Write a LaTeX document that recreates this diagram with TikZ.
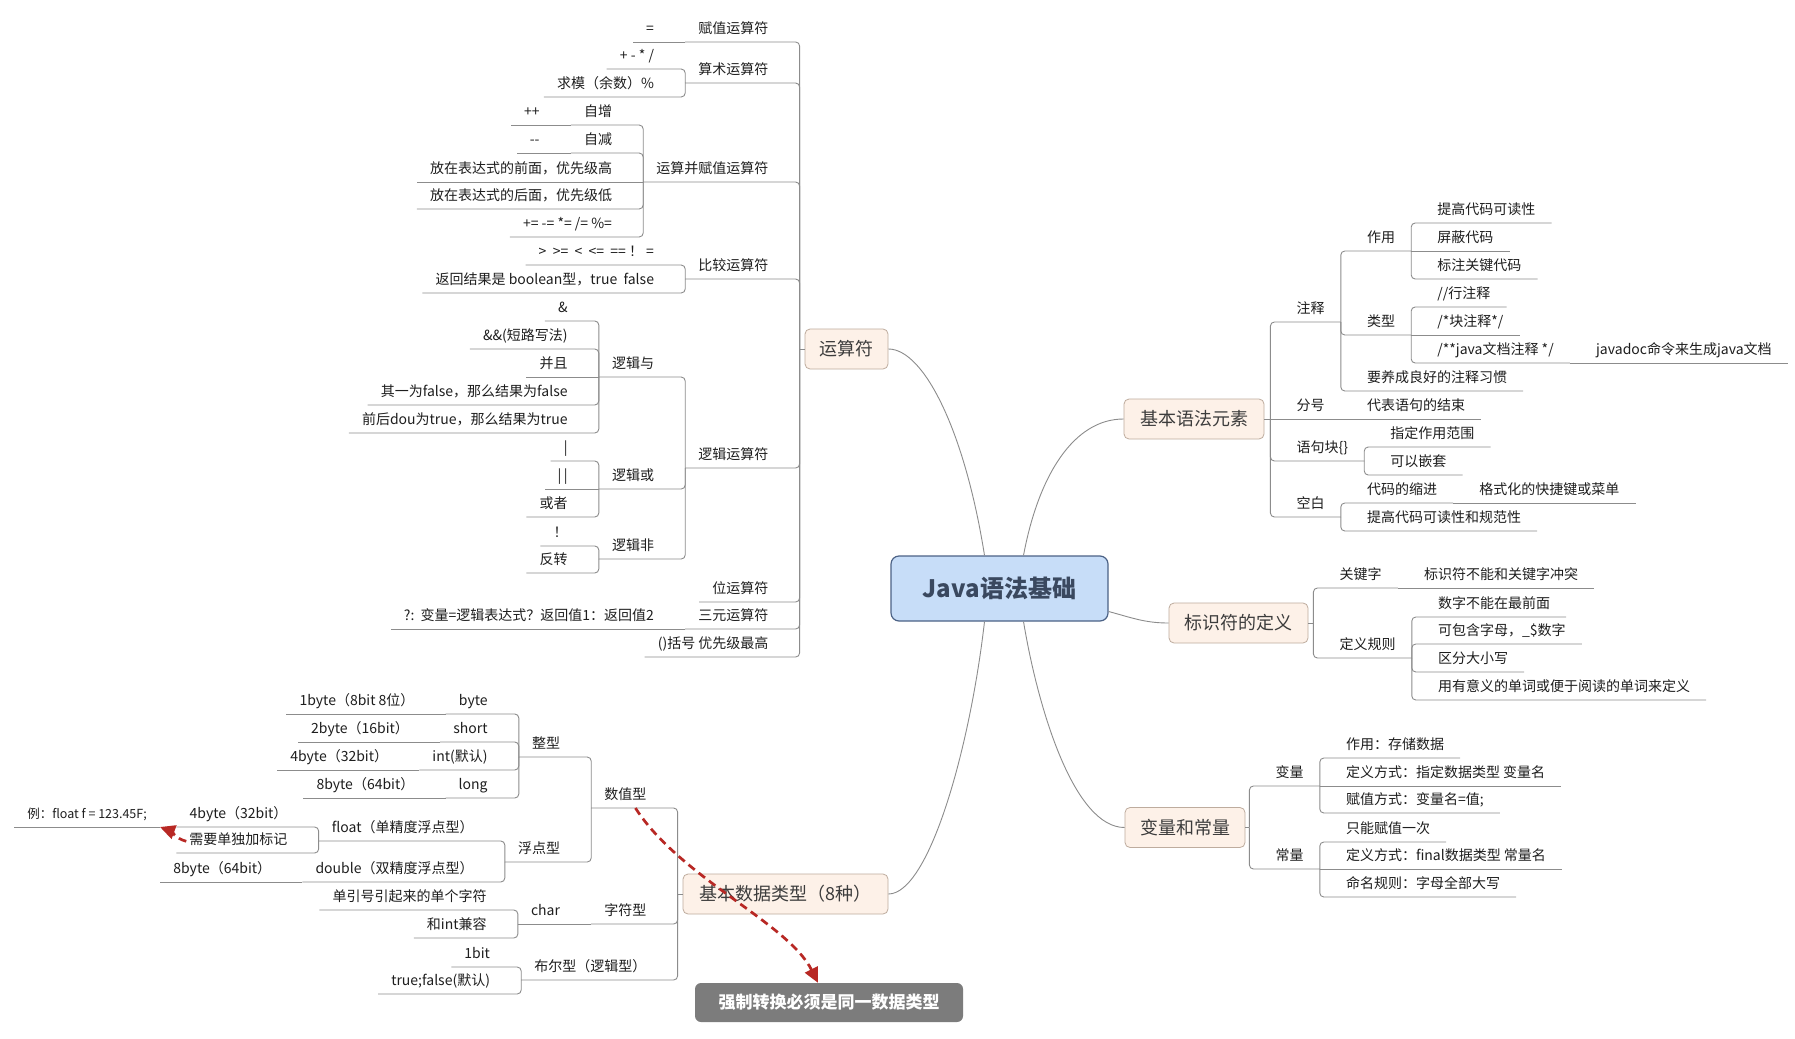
\documentclass[tikz,border=0pt]{standalone}
\usepackage{fontspec}
\setmainfont{Noto Sans CJK SC}
\usetikzlibrary{arrows.meta}

\definecolor{linegray}{RGB}{140,140,140}
\definecolor{leaftext}{RGB}{30,30,30}
\definecolor{topicfill}{RGB}{253,241,232}
\definecolor{topicdraw}{RGB}{190,172,158}
\definecolor{topictext}{RGB}{60,60,60}
\definecolor{rootfill}{RGB}{199,221,248}
\definecolor{rootdraw}{RGB}{76,98,134}
\definecolor{roottext}{RGB}{58,72,95}
\definecolor{relred}{RGB}{184,40,36}
\definecolor{notefill}{RGB}{124,124,124}

\begin{document}
\begin{tikzpicture}[x=1pt, y=-1pt, >={Triangle[length=15pt,width=14pt]}]
\tikzset{
root/.style   = {draw=rootdraw, fill=rootfill, line width=1.2pt, rounded corners=8pt, minimum width=217pt, minimum height=65pt, font=\fontsize{24}{28}\selectfont\bfseries, text=roottext},
topic/.style  = {draw=topicdraw, fill=topicfill, line width=0.8pt, rounded corners=5pt, minimum height=40pt, font=\fontsize{18}{21}\selectfont, text=topictext},
note/.style   = {fill=notefill, rounded corners=6pt, minimum width=268pt, minimum height=39pt, font=\fontsize{17}{20}\selectfont\bfseries, text=white},
lleaf/.style  = {anchor=south east, xshift=-18pt, inner xsep=13pt, inner ysep=3pt, text height=12pt, text depth=5pt, font=\fontsize{14}{16}\selectfont, text=leaftext},
rleaf/.style  = {anchor=south west, xshift=10pt, inner xsep=16pt, inner ysep=3pt, text height=12pt, text depth=5pt, font=\fontsize{14}{16}\selectfont, text=leaftext},
conn/.style   = {draw=linegray, line width=0.9pt, rounded corners=4pt},
branch/.style = {draw=linegray, line width=0.9pt},
rel/.style    = {->, draw=relred, line width=2.7pt, dash pattern=on 8pt off 5pt},
}
    \path [fill=white, use as bounding box] (0,0) rectangle (1795,1038);

    % Main nodes
    \node [root]                       (java)  at (999.5,588.5) {Java语法基础};
    \node [topic, minimum width=83pt]  (ysf)   at (846.5,349)   {运算符};
    \node [topic, minimum width=140pt] (jbyf)  at (1194,419)    {基本语法元素};
    \node [topic, minimum width=139pt] (bsf)   at (1238.5,623)  {标识符的定义};
    \node [topic, minimum width=120pt] (blcl)  at (1185,827.5)  {变量和常量};
    \node [topic, minimum width=205pt] (jbsj)  at (785.5,894)   {基本数据类型（8种）};
    \node [note]                       (qz)    at (829,1002.5)  {强制转换必须是同一数据类型};

    \coordinate (ysf-t)  at ([xshift=-5pt]ysf.west);
    \coordinate (jbsj-t) at ([xshift=-5pt]jbsj.west);
    \coordinate (jbyf-t) at ([xshift=6pt]jbyf.east);
    \coordinate (bsf-t)  at ([xshift=5pt]bsf.east);
    \coordinate (blcl-t) at ([xshift=4pt]blcl.east);

    % Main edges
    \draw [branch] ([xshift=-15pt]java.north) .. controls +(-20,-126) and +(35,0) .. (ysf.east);
    \draw [branch] ([xshift=24pt]java.north)  .. controls +(15,-80) and +(-50,0) .. (jbyf.west);
    \draw [branch] ([yshift=-23pt]java.east)  to[out=-15, in=180] (bsf.west);
    \draw [branch] ([xshift=24pt]java.south)  .. controls +(15,90) and +(-50,0) .. (blcl.west);
    \draw [branch] ([xshift=-15pt]java.south) .. controls +(-15,130) and +(40,0) .. (jbsj.east);
    \draw [conn] (ysf.west)  -- (ysf-t);
    \draw [conn] (jbsj.west) -- (jbsj-t);
    \draw [conn] (jbyf.east) -- (jbyf-t);
    \draw [conn] (bsf.east)  -- (bsf-t);
    \draw [conn] (blcl.east) -- (blcl-t);

    % 运算符
    \node [lleaf] (fz)    at (ysf-t |- 0,42)  {赋值运算符};
    \node [lleaf] (eq)    at (fz.south west)  {=};
    \node [lleaf] (ss)    at (ysf-t |- 0,83)  {算术运算符};
    \node [lleaf] (jj)    at (ss.south west |- 0,69) {+ - * /};
    \node [lleaf] (qm)    at (ss.south west |- 0,97) {求模（余数）\%};
    \node [lleaf] (ysfz)  at (ysf-t |- 0,182) {运算并赋值运算符};
    \node [lleaf] (zz)    at (ysfz.south west |- 0,125) {自增};
    \node [lleaf] (pp)    at (zz.south west) {++};
    \node [lleaf] (zj)    at (ysfz.south west |- 0,153) {自减};
    \node [lleaf] (mm)    at (zj.south west) {-{}-};
    \node [lleaf] (qian)  at (ysfz.south west) {放在表达式的前面，优先级高};
    \node [lleaf] (hou)   at (ysfz.south west |- 0,209) {放在表达式的后面，优先级低};
    \node [lleaf] (fhz)   at (ysfz.south west |- 0,237) {+= -= *= /= \%=};
    \node [lleaf] (bj)    at (ysf-t |- 0,279) {比较运算符};
    \node [lleaf] (bjf)   at (bj.south west |- 0,265) {> \ >= \ < \ <= \ == ！ =};
    \node [lleaf] (bjjg)  at (bj.south west |- 0,293) {返回结果是 boolean型，true\ \ false};
    \node [lleaf] (lj)    at (ysf-t |- 0,468) {逻辑运算符};
    \node [lleaf] (ly)    at (lj.south west |- 0,377) {逻辑与};
    \node [lleaf] (and1)  at (ly.south west |- 0,321) {\&};
    \node [lleaf] (and2)  at (ly.south west |- 0,349) {\&\&(短路写法)};
    \node [lleaf] (and3)  at (ly.south west) {并且};
    \node [lleaf] (and4)  at (ly.south west |- 0,405) {其一为false，那么结果为false};
    \node [lleaf] (and5)  at (ly.south west |- 0,433) {前后dou为true，那么结果为true};
    \node [lleaf] (lh)    at (lj.south west |- 0,489) {逻辑或};
    \node [lleaf] (or1)   at (lh.south west |- 0,461) {|};
    \node [lleaf] (or2)   at (lh.south west) {|\,|};
    \node [lleaf] (or3)   at (lh.south west |- 0,517) {或者};
    \node [lleaf] (lfei)  at (lj.south west |- 0,559) {逻辑非};
    \node [lleaf] (not1)  at (lfei.south west |- 0,546) {！};
    \node [lleaf] (not2)  at (lfei.south west |- 0,573) {反转};
    \node [lleaf] (wys)   at (ysf-t |- 0,602) {位运算符};
    \node [lleaf] (sy)    at (ysf-t |- 0,629) {三元运算符};
    \node [lleaf] (sy1)   at (sy.south west) {?:\ \ 变量=逻辑表达式？返回值1：返回值2};
    \node [lleaf] (kh)    at (ysf-t |- 0,657) {()括号 优先级最高};

    \draw [conn] (ysf-t) |- (fz.south west);
    \draw [conn] (fz.south west) -- (eq.south west);
    \draw [conn] (ysf-t) |- (ss.south west);
    \draw [conn] (ss.south west) |- (jj.south west);
    \draw [conn] (ss.south west) |- (qm.south west);
    \draw [conn] (ysf-t) |- (ysfz.south west);
    \draw [conn] (ysfz.south west) |- (zz.south west);
    \draw [conn] (zz.south west) -- (pp.south west);
    \draw [conn] (ysfz.south west) |- (zj.south west);
    \draw [conn] (zj.south west) -- (mm.south west);
    \draw [conn] (ysfz.south west) -- (qian.south west);
    \draw [conn] (ysfz.south west) |- (hou.south west);
    \draw [conn] (ysfz.south west) |- (fhz.south west);
    \draw [conn] (ysf-t) |- (bj.south west);
    \draw [conn] (bj.south west) |- (bjf.south west);
    \draw [conn] (bj.south west) |- (bjjg.south west);
    \draw [conn] (ysf-t) |- (lj.south west);
    \draw [conn] (lj.south west) |- (ly.south west);
    \draw [conn] (ly.south west) |- (and1.south west);
    \draw [conn] (ly.south west) |- (and2.south west);
    \draw [conn] (ly.south west) -- (and3.south west);
    \draw [conn] (ly.south west) |- (and4.south west);
    \draw [conn] (ly.south west) |- (and5.south west);
    \draw [conn] (lj.south west) |- (lh.south west);
    \draw [conn] (lh.south west) |- (or1.south west);
    \draw [conn] (lh.south west) -- (or2.south west);
    \draw [conn] (lh.south west) |- (or3.south west);
    \draw [conn] (lj.south west) |- (lfei.south west);
    \draw [conn] (lfei.south west) |- (not1.south west);
    \draw [conn] (lfei.south west) |- (not2.south west);
    \draw [conn] (ysf-t) |- (wys.south west);
    \draw [conn] (ysf-t) |- (sy.south west);
    \draw [conn] (sy.south west) -- (sy1.south west);
    \draw [conn] (ysf-t) |- (kh.south west);

    % 基本数据类型
    \node [lleaf] (szx)    at (jbsj-t |- 0,808) {数值型};
    \node [lleaf] (zx)     at (szx.south west |- 0,757) {整型};
    \node [lleaf] (byte)   at (zx.south west |- 0,714) {byte};
    \node [lleaf] (byte1)  at (byte.south west) {1byte（8bit 8位）};
    \node [lleaf] (short)  at (zx.south west |- 0,742) {short};
    \node [lleaf] (short1) at (short.south west) {2byte（16bit）};
    \node [lleaf] (int)    at (zx.south west |- 0,770) {int(默认)};
    \node [lleaf] (int1)   at (int.south west) {4byte（32bit）};
    \node [lleaf] (long)   at (zx.south west |- 0,798) {long};
    \node [lleaf] (long1)  at (long.south west) {8byte（64bit）};
    \node [lleaf] (fdx)    at (szx.south west |- 0,862) {浮点型};
    \node [lleaf] (flt)    at (fdx.south west |- 0,841) {float（单精度浮点型）};
    \node [lleaf] (flt1)   at (flt.south west |- 0,827) {4byte（32bit）};
    \node [lleaf] (flt2)   at (flt.south west |- 0,853) {需要单独加标记};
    \node [lleaf] (dbl)    at (fdx.south west |- 0,882) {double（双精度浮点型）};
    \node [lleaf] (dbl1)   at (dbl.south west) {8byte（64bit）};
    \node [lleaf] (zfx)    at (jbsj-t |- 0,924) {字符型};
    \node [lleaf] (chr)    at (zfx.south west) {char};
    \node [lleaf] (chr1)   at (chr.south west |- 0,910) {单引号引起来的单个字符};
    \node [lleaf] (chr2)   at (chr.south west |- 0,938) {和int兼容};
    \node [lleaf] (bex)    at (jbsj-t |- 0,980) {布尔型（逻辑型）};
    \node [lleaf] (bex1)   at (bex.south west |- 0,967) {1bit};
    \node [lleaf] (bex2)   at (bex.south west |- 0,994) {true;false(默认)};
    \node [lleaf, font=\fontsize{12.5}{15}\selectfont] (li) at (178,827) {例：float f = 123.45F;};

    \draw [conn] (jbsj-t) |- (szx.south west);
    \draw [conn] (szx.south west) |- (zx.south west);
    \draw [conn] (zx.south west) |- (byte.south west);
    \draw [conn] (byte.south west) -- (byte1.south west);
    \draw [conn] (zx.south west) |- (short.south west);
    \draw [conn] (short.south west) -- (short1.south west);
    \draw [conn] (zx.south west) |- (int.south west);
    \draw [conn] (int.south west) -- (int1.south west);
    \draw [conn] (zx.south west) |- (long.south west);
    \draw [conn] (long.south west) -- (long1.south west);
    \draw [conn] (szx.south west) |- (fdx.south west);
    \draw [conn] (fdx.south west) |- (flt.south west);
    \draw [conn] (flt.south west) |- (flt1.south west);
    \draw [conn] (flt.south west) |- (flt2.south west);
    \draw [conn] (fdx.south west) |- (dbl.south west);
    \draw [conn] (dbl.south west) -- (dbl1.south west);
    \draw [conn] (jbsj-t) |- (zfx.south west);
    \draw [conn] (zfx.south west) -- (chr.south west);
    \draw [conn] (chr.south west) |- (chr1.south west);
    \draw [conn] (chr.south west) |- (chr2.south west);
    \draw [conn] (jbsj-t) |- (bex.south west);
    \draw [conn] (bex.south west) |- (bex1.south west);
    \draw [conn] (bex.south west) |- (bex2.south west);
    \draw [conn] (li.south west) -- (li.south east);

    % 基本语法元素
    \node [rleaf] (zs)   at (jbyf-t |- 0,322) {注释};
    \node [rleaf] (zy)   at (zs.south east |- 0,251) {作用};
    \node [rleaf] (zy1)  at (zy.south east |- 0,223) {提高代码可读性};
    \node [rleaf] (zy2)  at (zy.south east) {屏蔽代码};
    \node [rleaf] (zy3)  at (zy.south east |- 0,279) {标注关键代码};
    \node [rleaf] (lx)   at (zs.south east |- 0,335) {类型};
    \node [rleaf] (lx1)  at (lx.south east |- 0,307) {//行注释};
    \node [rleaf] (lx2)  at (lx.south east) {/*块注释*/};
    \node [rleaf] (lx3)  at (lx.south east |- 0,363) {/**java文档注释 */};
    \node [rleaf] (lx4)  at (lx3.south east) {javadoc命令来生成java文档};
    \node [rleaf] (yy)   at (zs.south east |- 0,391) {要养成良好的注释习惯};
    \node [rleaf] (fh)   at (jbyf-t) {分号};
    \node [rleaf] (fh1)  at (fh.south east) {代表语句的结束};
    \node [rleaf] (yjk)  at (jbyf-t |- 0,461) {语句块\{\}};
    \node [rleaf] (yjk1) at (yjk.south east |- 0,447) {指定作用范围};
    \node [rleaf] (yjk2) at (yjk.south east |- 0,475) {可以嵌套};
    \node [rleaf] (kb)   at (jbyf-t |- 0,517) {空白};
    \node [rleaf] (kb1)  at (kb.south east |- 0,503) {代码的缩进};
    \node [rleaf] (kb2)  at (kb1.south east) {格式化的快捷键或菜单};
    \node [rleaf] (kb3)  at (kb.south east |- 0,531) {提高代码可读性和规范性};

    \draw [conn] (jbyf-t) |- (zs.south east);
    \draw [conn] (zs.south east) |- (zy.south east);
    \draw [conn] (zy.south east) |- (zy1.south east);
    \draw [conn] (zy.south east) -- (zy2.south east);
    \draw [conn] (zy.south east) |- (zy3.south east);
    \draw [conn] (zs.south east) |- (lx.south east);
    \draw [conn] (lx.south east) |- (lx1.south east);
    \draw [conn] (lx.south east) -- (lx2.south east);
    \draw [conn] (lx.south east) |- (lx3.south east);
    \draw [conn] (lx3.south east) -- (lx4.south east);
    \draw [conn] (zs.south east) |- (yy.south east);
    \draw [conn] (jbyf-t) -- (fh.south east);
    \draw [conn] (fh.south east) -- (fh1.south east);
    \draw [conn] (jbyf-t) |- (yjk.south east);
    \draw [conn] (yjk.south east) |- (yjk1.south east);
    \draw [conn] (yjk.south east) |- (yjk2.south east);
    \draw [conn] (jbyf-t) |- (kb.south east);
    \draw [conn] (kb.south east) |- (kb1.south east);
    \draw [conn] (kb1.south east) -- (kb2.south east);
    \draw [conn] (kb.south east) |- (kb3.south east);

    % 标识符的定义
    \node [rleaf] (gjz)  at (bsf-t |- 0,588) {关键字};
    \node [rleaf] (gjz1) at (gjz.south east) {标识符不能和关键字冲突};
    \node [rleaf] (dygz) at (bsf-t |- 0,658) {定义规则};
    \node [rleaf] (gz1)  at (dygz.south east |- 0,617) {数字不能在最前面};
    \node [rleaf] (gz2)  at (dygz.south east |- 0,644) {可包含字母，\_\$数字};
    \node [rleaf] (gz3)  at (dygz.south east |- 0,672) {区分大小写};
    \node [rleaf] (gz4)  at (dygz.south east |- 0,700) {用有意义的单词或便于阅读的单词来定义};

    \draw [conn] (bsf-t) |- (gjz.south east);
    \draw [conn] (gjz.south east) -- (gjz1.south east);
    \draw [conn] (bsf-t) |- (dygz.south east);
    \draw [conn] (dygz.south east) |- (gz1.south east);
    \draw [conn] (dygz.south east) |- (gz2.south east);
    \draw [conn] (dygz.south east) |- (gz3.south east);
    \draw [conn] (dygz.south east) |- (gz4.south east);

    % 变量和常量
    \node [rleaf] (bl)   at (blcl-t |- 0,786) {变量};
    \node [rleaf] (bl1)  at (bl.south east |- 0,758) {作用：存储数据};
    \node [rleaf] (bl2)  at (bl.south east) {定义方式：指定数据类型 变量名};
    \node [rleaf] (bl3)  at (bl.south east |- 0,813) {赋值方式：变量名=值;};
    \node [rleaf] (cl)   at (blcl-t |- 0,869) {常量};
    \node [rleaf] (cl1)  at (cl.south east |- 0,842) {只能赋值一次};
    \node [rleaf] (cl2)  at (cl.south east) {定义方式：final数据类型 常量名};
    \node [rleaf] (cl3)  at (cl.south east |- 0,897) {命名规则：字母全部大写};

    \draw [conn] (blcl-t) |- (bl.south east);
    \draw [conn] (bl.south east) |- (bl1.south east);
    \draw [conn] (bl.south east) -- (bl2.south east);
    \draw [conn] (bl.south east) |- (bl3.south east);
    \draw [conn] (blcl-t) |- (cl.south east);
    \draw [conn] (cl.south east) |- (cl1.south east);
    \draw [conn] (cl.south east) -- (cl2.south east);
    \draw [conn] (cl.south east) |- (cl3.south east);

    % Relations
    \draw [rel] ([xshift=10pt]szx.south) .. controls +(45,70) and +(-30,-60) .. ([xshift=-11pt]qz.north);
    \draw [rel] ([xshift=10pt]flt2.west) to[out=165, in=-20] (li.south east);

\end{tikzpicture}
\end{document}
